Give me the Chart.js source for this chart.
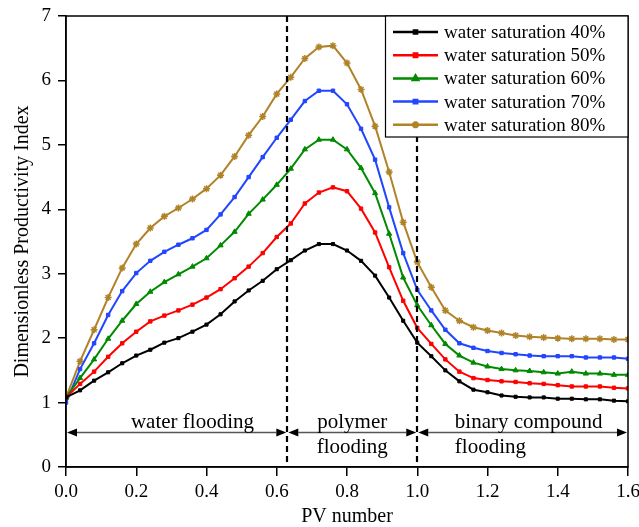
<!DOCTYPE html>
<html lang="en">
<head>
    <meta charset="UTF-8">
    <title>Dimensionless Productivity Index</title>
    <script src="https://cdn.jsdelivr.net/npm/chart.js"></script>
    <style>
        body {
            margin: 0;
            padding: 0;
            background: #fff;
        }

        .chart-container {
            width: 639px;
            height: 527px;
        }
    </style>
</head>
<body>
    <div class="chart-container">
        <canvas id="pviChart"></canvas>
    </div>

    <script>
        // PV number at each measured point
        const pvNumber = [0, 0.04, 0.08, 0.12, 0.16, 0.20, 0.24, 0.28, 0.32, 0.36, 0.40,
            0.44, 0.48, 0.52, 0.56, 0.60, 0.64, 0.68, 0.72, 0.76, 0.80,
            0.84, 0.88, 0.92, 0.96, 1.00, 1.04, 1.08, 1.12, 1.16, 1.20,
            1.24, 1.28, 1.32, 1.36, 1.40, 1.44, 1.48, 1.52, 1.56, 1.60];

        const sw40 = [1.08, 1.19, 1.34, 1.47, 1.61, 1.73, 1.82, 1.93, 2.00, 2.10, 2.21,
            2.37, 2.57, 2.74, 2.89, 3.07, 3.21, 3.36, 3.46, 3.46, 3.36,
            3.20, 2.97, 2.63, 2.27, 1.93, 1.72, 1.50, 1.33, 1.20, 1.16,
            1.11, 1.09, 1.08, 1.08, 1.06, 1.06, 1.05, 1.05, 1.03, 1.02];

        const sw50 = [1.08, 1.29, 1.48, 1.71, 1.92, 2.10, 2.26, 2.35, 2.43, 2.52, 2.63,
            2.76, 2.93, 3.11, 3.32, 3.57, 3.78, 4.09, 4.26, 4.34, 4.28,
            4.01, 3.64, 3.10, 2.58, 2.16, 1.91, 1.67, 1.48, 1.38, 1.35,
            1.33, 1.32, 1.30, 1.29, 1.27, 1.25, 1.25, 1.25, 1.23, 1.22];

        const sw60 = [1.08, 1.38, 1.67, 1.99, 2.27, 2.53, 2.72, 2.87, 2.99, 3.11, 3.24,
            3.44, 3.65, 3.93, 4.15, 4.38, 4.63, 4.93, 5.08, 5.08, 4.93,
            4.64, 4.25, 3.62, 2.94, 2.51, 2.20, 1.91, 1.73, 1.62, 1.56,
            1.52, 1.50, 1.49, 1.47, 1.45, 1.48, 1.45, 1.45, 1.43, 1.43];

        const sw70 = [1.00, 1.52, 1.92, 2.36, 2.73, 3.01, 3.20, 3.34, 3.45, 3.55, 3.68,
            3.92, 4.19, 4.50, 4.81, 5.11, 5.39, 5.68, 5.84, 5.84, 5.63,
            5.25, 4.77, 4.03, 3.32, 2.75, 2.43, 2.13, 1.92, 1.85, 1.80,
            1.77, 1.75, 1.73, 1.72, 1.72, 1.72, 1.70, 1.70, 1.70, 1.68];

        const sw80 = [1.08, 1.64, 2.13, 2.63, 3.09, 3.46, 3.71, 3.89, 4.02, 4.16, 4.32,
            4.53, 4.82, 5.15, 5.44, 5.79, 6.05, 6.34, 6.52, 6.54, 6.27,
            5.86, 5.29, 4.58, 3.80, 3.18, 2.79, 2.43, 2.27, 2.17, 2.12,
            2.08, 2.04, 2.02, 2.01, 2.00, 1.99, 1.99, 1.99, 1.98, 1.98];

        const seriesLabels = ['water saturation 40%', 'water saturation 50%', 'water saturation 60%',
            'water saturation 70%', 'water saturation 80%'];

        // flooding stages: boundaries in PV number and their captions
        const stageBounds = [0, 0.63, 1.0, 1.6];
        const stageCaptions = [
            { lines: ['water flooding'], x: 0.36, align: 'center' },
            { lines: ['polymer', 'flooding'], x: 0.815, align: 'center' },
            { lines: ['binary compound', 'flooding'], x: 1.107, align: 'left' }
        ];

        const FONT = '"Liberation Serif", "Times New Roman", serif';

        const styles = [
            { color: '#000000', point: 'rect', r: 2.2 },
            { color: '#ff0000', point: 'rect', r: 2.4 },
            { color: '#008a00', point: 'triangle', r: 3 },
            { color: '#2246ff', point: 'rect', r: 2.4 },
            { color: '#b08328', point: 'star', r: 3.5 }
        ];

        const toPoints = (ys) => pvNumber.map((x, i) => ({ x: x, y: ys[i] }));

        const datasets = [sw40, sw50, sw60, sw70, sw80].map((ys, i) => ({
            label: seriesLabels[i],
            data: toPoints(ys),
            borderColor: styles[i].color,
            backgroundColor: styles[i].color,
            borderWidth: 2,
            pointStyle: styles[i].point,
            pointRadius: styles[i].r,
            pointBorderWidth: styles[i].point === 'star' ? 1.5 : 1,
            tension: 0
        }));

        // frame, dashed stage boundaries, double arrows and captions
        const annotations = {
            id: 'annotations',
            afterDatasetsDraw(chart) {
                const { ctx, chartArea: a, scales: { x, y } } = chart;
                ctx.save();

                // stage boundaries
                ctx.strokeStyle = '#000';
                ctx.lineWidth = 2.2;
                ctx.setLineDash([6, 4]);
                [stageBounds[1], stageBounds[2]].forEach(v => {
                    const px = Math.round(x.getPixelForValue(v));
                    ctx.beginPath();
                    ctx.moveTo(px, a.top);
                    ctx.lineTo(px, a.bottom);
                    ctx.stroke();
                });
                ctx.setLineDash([]);

                // double arrows
                const ay = Math.round(y.getPixelForValue(0.55)) + 0.5;
                const head = 10, half = 4;
                for (let i = 0; i < stageBounds.length - 1; i++) {
                    const x0 = x.getPixelForValue(stageBounds[i]) + 1;
                    const x1 = x.getPixelForValue(stageBounds[i + 1]) - 1;
                    ctx.strokeStyle = '#555';
                    ctx.lineWidth = 1.5;
                    ctx.beginPath();
                    ctx.moveTo(x0 + head, ay);
                    ctx.lineTo(x1 - head, ay);
                    ctx.stroke();
                    ctx.fillStyle = '#000';
                    ctx.beginPath();
                    ctx.moveTo(x0, ay);
                    ctx.lineTo(x0 + head, ay - half);
                    ctx.lineTo(x0 + head, ay + half);
                    ctx.closePath();
                    ctx.fill();
                    ctx.beginPath();
                    ctx.moveTo(x1, ay);
                    ctx.lineTo(x1 - head, ay - half);
                    ctx.lineTo(x1 - head, ay + half);
                    ctx.closePath();
                    ctx.fill();
                }

                // captions
                ctx.fillStyle = '#000';
                ctx.font = '21px ' + FONT;
                ctx.textBaseline = 'middle';
                const lineY = [0.69, 0.30];
                stageCaptions.forEach(c => {
                    ctx.textAlign = c.align;
                    c.lines.forEach((t, k) => {
                        ctx.fillText(t, x.getPixelForValue(c.x), y.getPixelForValue(lineY[k]));
                    });
                });

                // frame
                ctx.strokeStyle = '#000';
                ctx.lineWidth = 1.5;
                ctx.strokeRect(a.left, a.top, a.right - a.left, a.bottom - a.top);
                ctx.restore();
            }
        };

        // boxed legend in the top right corner
        const boxLegend = {
            id: 'boxLegend',
            afterDraw(chart) {
                const { ctx, chartArea: a } = chart;
                const left = 385, top = a.top, right = a.right, rowH = 23.2;
                ctx.save();
                ctx.fillStyle = '#fff';
                ctx.fillRect(left, top, right - left, 121);
                ctx.strokeStyle = '#000';
                ctx.lineWidth = 1.2;
                ctx.strokeRect(left + 0.5, top, right - left - 0.5, 121);
                chart.data.datasets.forEach((ds, i) => {
                    const cy = top + 16 + i * rowH;
                    ctx.strokeStyle = ds.borderColor;
                    ctx.lineWidth = 2.5;
                    ctx.beginPath();
                    ctx.moveTo(393, cy);
                    ctx.lineTo(438, cy);
                    ctx.stroke();
                    ctx.fillStyle = ds.borderColor;
                    Chart.helpers.drawPoint(ctx, {
                        pointStyle: ds.pointStyle,
                        radius: ds.pointRadius,
                        borderWidth: ds.pointBorderWidth,
                        rotation: 0
                    }, 415.5, cy);
                    ctx.fillStyle = '#000';
                    ctx.font = '19px ' + FONT;
                    ctx.textAlign = 'left';
                    ctx.textBaseline = 'middle';
                    ctx.fillText(ds.label, 444, cy + 1);
                });
                ctx.restore();
            }
        };

        const axisGrid = (len) => ({ display: true, drawOnChartArea: false, drawTicks: true, tickLength: len, color: '#000', lineWidth: 1.5 });
        const axisBorder = { display: true, color: '#000', width: 1.5 };

        Chart.defaults.font.family = FONT;
        Chart.defaults.color = '#000';

        new Chart(document.getElementById('pviChart').getContext('2d'), {
            type: 'line',
            data: { datasets: datasets },
            options: {
                responsive: true,
                maintainAspectRatio: false,
                animation: false,
                layout: { padding: { top: 16, right: 11, left: 0, bottom: 0 } },
                plugins: {
                    legend: { display: false },
                    tooltip: { enabled: false }
                },
                scales: {
                    x: {
                        type: 'linear',
                        min: 0,
                        max: 1.6,
                        grid: axisGrid(9),
                        border: axisBorder,
                        ticks: { stepSize: 0.2, font: { size: 19 }, padding: 5, maxRotation: 0,
                                 callback: v => v.toFixed(1) },
                        title: { display: true, text: 'PV number', font: { size: 20, lineHeight: 1.0 }, padding: { top: 0, bottom: 0 } },
                        afterFit: s => { s.height = 60; s.paddingRight = 0; s.paddingLeft = 0; }
                    },
                    y: {
                        min: 0,
                        max: 7,
                        grid: axisGrid(8),
                        border: axisBorder,
                        ticks: { stepSize: 1, font: { size: 19 }, padding: 7 },
                        title: { display: true, text: 'Dimensionless Productivity Index', font: { size: 20 }, padding: { top: 11, bottom: 0 } },
                        afterFit: s => { s.width = 66; s.paddingTop = 0; s.paddingBottom = 0; }
                    }
                }
            },
            plugins: [annotations, boxLegend]
        });
    </script>
</body>
</html>
